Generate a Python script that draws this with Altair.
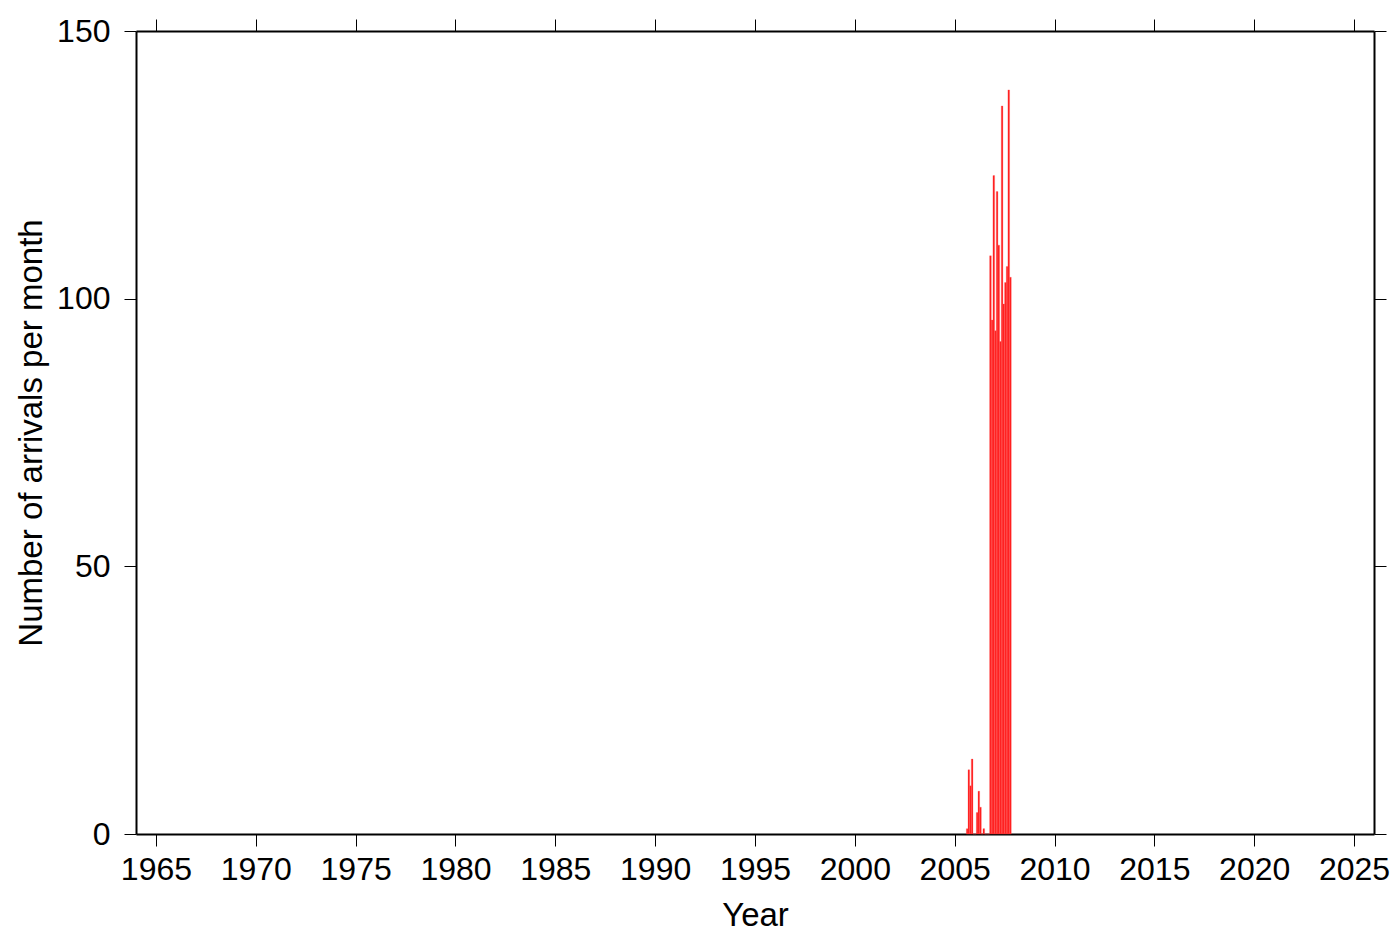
import altair as alt
import pandas as pd

years = [2005, 2005, 2005, 2005, 2005,
         2006, 2006, 2006, 2006, 2006, 2006, 2006, 2006, 2006, 2006, 2006, 2006,
         2007, 2007, 2007, 2007, 2007, 2007, 2007, 2007, 2007, 2007]
months = [8, 9, 10, 11, 12,
          1, 2, 3, 4, 5, 6, 7, 8, 9, 10, 11, 12,
          1, 2, 3, 4, 5, 6, 7, 8, 9, 10]
counts = [1, 12, 9, 14, 0,
          0, 4, 8, 5, 0, 1, 0, 0, 0, 108, 96, 123,
          94, 120, 110, 92, 136, 99, 103, 106, 139, 104]

x_ticks = list(range(1965, 2026, 5))
y_ticks = [0, 50, 100, 150]

df = pd.DataFrame({"year": years, "month": months, "count": counts})
df["start"] = df["year"] + (df["month"] - 1) / 12.0
df["end"] = df["start"] + 1 / 12.0

FONT = "Liberation Sans"
FS = 32

xscale = alt.Scale(domain=[1964, 2026], nice=False, zero=False)
yscale = alt.Scale(domain=[0, 150], nice=False)

common_axis = dict(
    domainColor="black", domainWidth=2, tickColor="black", tickWidth=1,
    tickSize=12, labelFont=FONT, labelFontSize=FS, labelColor="black",
    titleFont=FONT, titleFontSize=33, titleColor="black", titleFontWeight="normal",
    grid=False,
)

bars = alt.Chart(df).mark_rect(color="#ff1a1a", stroke="#ff5a5a", strokeWidth=0.3).encode(
    x=alt.X("start:Q", scale=xscale,
            axis=alt.Axis(orient="bottom", values=x_ticks, format="d", title="Year",
                          labelPadding=8, titlePadding=14, labelFlush=False, **common_axis)),
    x2="end:Q",
    y=alt.Y("count:Q", scale=yscale,
            axis=alt.Axis(orient="left", values=y_ticks, title="Number of arrivals per month",
                          labelPadding=14, titlePadding=8, labelFlush=False, **common_axis)),
)

frame = alt.Chart(df).mark_rect(opacity=0).encode(
    x=alt.X("start:Q", scale=xscale,
            axis=alt.Axis(orient="top", values=x_ticks, labels=False, title=None, **common_axis)),
    x2="end:Q",
    y=alt.Y("count:Q", scale=yscale,
            axis=alt.Axis(orient="right", values=y_ticks, labels=False, title=None, **common_axis)),
)

chart = alt.layer(frame, bars).properties(
    width=1238, height=803,
    autosize=alt.AutoSizeParams(type="none"),
    padding={"left": 128, "top": 23, "right": 18, "bottom": 100},
).configure_view(stroke=None).configure(background="white")

chart.save("out.html", embed_options={"renderer": "svg", "actions": False})
